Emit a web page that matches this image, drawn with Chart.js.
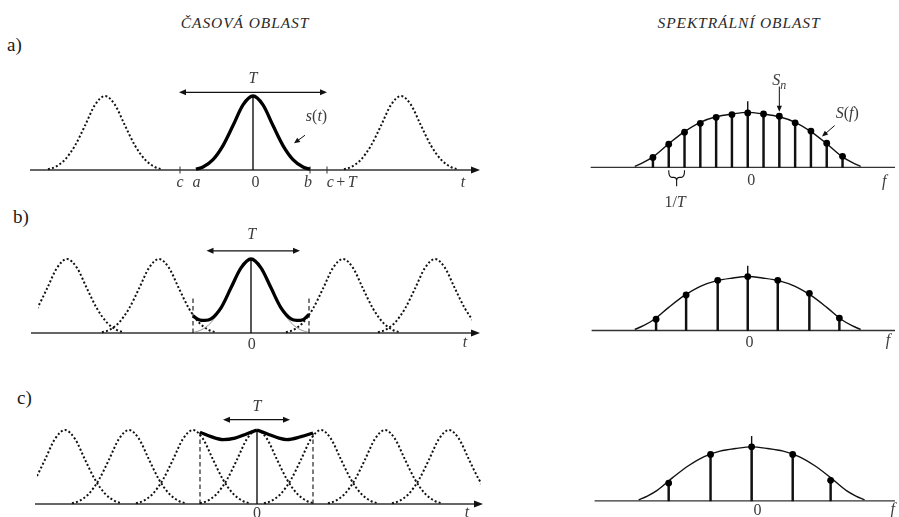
<!DOCTYPE html>
<html>
<head>
<meta charset="utf-8">
<script src="https://cdn.jsdelivr.net/npm/chart.js@4.4.1/dist/chart.umd.min.js"></script>
<style>
  body { margin: 0; width: 899px; height: 517px; overflow: hidden; position: relative; background: #fff;
         font-family: "Liberation Serif", "DejaVu Serif", serif; color: #1a1a1a; }
  canvas { position: absolute; }
  .head { position: absolute; font-style: italic; font-size: 15.5px; letter-spacing: 0.9px;
          transform: translate(-50%, -50%); white-space: nowrap; color: #2a2a2a; }
  .tag { position: absolute; font-size: 19px; transform: translateY(-50%); }
</style>
</head>
<body>
<div class="head" style="left:245px;top:23px">ČASOVÁ OBLAST</div>
<div class="head" style="left:739px;top:23px">SPEKTRÁLNÍ OBLAST</div>
<div class="tag" style="left:7px;top:45px">a)</div>
<div class="tag" style="left:13px;top:217px">b)</div>
<div class="tag" style="left:17px;top:398px">c)</div>

<script>
// single pulse s(t) around its centre (time in units, amplitude 1 at the peak)
var pulseOffsets = [-5.7, -5, -4, -3, -2, -1, 0, 1, 2, 3, 4, 5, 5.7];
var pulseValues  = [0.01, 0.04, 0.14, 0.33, 0.60, 0.88, 1.00, 0.88, 0.60, 0.33, 0.14, 0.04, 0.01];

// pulse centres for the three repetition periods
var centresA = [-14.8, 0, 14.8];
var centresB = [-18.4, -9.2, 0, 9.2, 18.4];
var centresC = [-19.2, -12.8, -6.4, 0, 6.4, 12.8, 19.2];

// periodic signal over one window [a, b]
var sumOffsetsB = [-5.8, -5.2, -4.6, -4, -3, -2, -1, 0, 1, 2, 3, 4, 4.6, 5.2, 5.8];
var sumValuesB  = [0.23, 0.18, 0.17, 0.19, 0.34, 0.61, 0.88, 1.00, 0.88, 0.61, 0.34, 0.19, 0.17, 0.18, 0.25];
var sumOffsetsC = [-5.7, -4.6, -3.4, -2.2, -1, 0, 1, 2.2, 3.0, 4.4, 5.6];
var sumValuesC  = [0.97, 0.91, 0.87, 0.89, 0.95, 1.00, 0.95, 0.89, 0.87, 0.91, 0.96];

// spectrum envelope S(f)
var envFreq   = [-7.15, -6.6, -6, -5, -4, -3, -2, -1, 0, 1, 2, 3, 4, 5, 6, 6.6, 7.15];
var envValues = [0.02, 0.09, 0.19, 0.43, 0.65, 0.82, 0.92, 0.97, 1.00, 0.97, 0.92, 0.82, 0.65, 0.43, 0.19, 0.09, 0.02];

// spectral lines S_n
var lineFreqA = [-6, -5, -4, -3, -2, -1, 0, 1, 2, 3, 4, 5, 6];
var lineValA  = [0.18, 0.42, 0.64, 0.80, 0.91, 0.96, 0.99, 0.97, 0.93, 0.81, 0.66, 0.44, 0.20];
var lineFreqB = [-5.8, -3.9, -1.9, 0, 1.9, 3.9, 5.8];
var lineValB  = [0.21, 0.66, 0.93, 1.00, 0.93, 0.69, 0.23];
var lineFreqC = [-5.25, -2.6, 0, 2.6, 5.0];
var lineValC  = [0.33, 0.86, 1.00, 0.86, 0.38];

var MATH_FONT = '"Liberation Serif", "DejaVu Serif", serif';

// page layout of each panel: canvas box, plotted x range, origin, px per unit
var layout = {
  timeA: { box: [0, 60, 495, 140],  clip: [0, 495],  origin: [253, 170], unit: [10, 74] },
  timeB: { box: [0, 222, 495, 138], clip: [38, 472], origin: [251, 333], unit: [10, 74] },
  timeC: { box: [0, 395, 495, 122], clip: [37, 481], origin: [257, 504], unit: [10, 74] },
  specA: { box: [575, 60, 324, 155],  clip: [575, 899], origin: [748, 169], unit: [16.2, 58] },
  specB: { box: [575, 240, 324, 115], clip: [575, 899], origin: [748, 333], unit: [16.2, 58] },
  specC: { box: [575, 400, 324, 117], clip: [575, 899], origin: [752, 504], unit: [16.2, 58] }
};

function pts(xs, ys, shift) {
  return xs.map(function (x, i) { return { x: x + (shift || 0), y: ys[i] }; });
}

function dotted(data) {
  return { data: data, showLine: true, borderColor: '#111', borderWidth: 2, borderDash: [2, 2.2],
           pointRadius: 0, cubicInterpolationMode: 'monotone', order: 4 };
}
function thick(data) {
  return { data: data, showLine: true, borderColor: '#000', borderWidth: 3.3, pointRadius: 0,
           cubicInterpolationMode: 'monotone', order: 1 };
}
function thin(data) {
  return { data: data, showLine: true, borderColor: '#8a8a8a', borderWidth: 0.9, pointRadius: 0,
           cubicInterpolationMode: 'monotone', order: 3 };
}
function segment(data, dash) {
  return { data: data, showLine: true, borderColor: '#111', borderWidth: dash ? 1.1 : 1.4,
           borderDash: dash ? [4.5, 3] : [], pointRadius: 0, order: 2 };
}

// math label: letters italic, digits and symbols upright, "_x" as subscript
function mathText(ctx, s, cx, cy) {
  var size = 16, runs = [], i = 0;
  while (i < s.length) {
    var ch = s[i], sub = false;
    if (ch === '_') { sub = true; ch = s[++i]; }
    runs.push({ ch: ch, it: /[A-Za-z]/.test(ch), sub: sub, pad: ch === '+' ? 2.5 : 0 });
    i++;
  }
  var total = 0;
  runs.forEach(function (r) {
    r.font = (r.it ? 'italic ' : '') + (r.sub ? Math.round(size * 0.72) : size) + 'px ' + MATH_FONT;
    ctx.font = r.font;
    r.w = ctx.measureText(r.ch).width + r.pad * 2;
    total += r.w;
  });
  var x = cx - total / 2;
  ctx.textBaseline = 'middle';
  ctx.textAlign = 'left';
  runs.forEach(function (r) {
    ctx.font = r.font;
    ctx.fillText(r.ch, x + r.pad, cy + (r.sub ? 5 : 0));
    x += r.w;
  });
}

function arrowHead(ctx, x, y, ang, len, half) {
  ctx.beginPath();
  ctx.moveTo(x, y);
  ctx.lineTo(x - len * Math.cos(ang) + half * Math.sin(ang), y - len * Math.sin(ang) - half * Math.cos(ang));
  ctx.lineTo(x - len * Math.cos(ang) - half * Math.sin(ang), y - len * Math.sin(ang) + half * Math.cos(ang));
  ctx.closePath();
  ctx.fill();
}

// axes, ticks, arrows, braces and labels around the plotted data
function marksPlugin(m) {
  return {
    id: 'marks',
    beforeDatasetsDraw: function (chart) {
      var ctx = chart.ctx, sx = chart.scales.x, sy = chart.scales.y;
      var y0 = sy.getPixelForValue(0);
      var x1 = sx.getPixelForValue(m.axis[0]), x2 = sx.getPixelForValue(m.axis[1]);
      ctx.save();
      ctx.strokeStyle = '#333';
      ctx.fillStyle = '#111';
      ctx.lineWidth = 1.4;
      ctx.beginPath();
      ctx.moveTo(x1, y0);
      ctx.lineTo(m.arrow ? x2 - 6 : x2, y0);
      ctx.stroke();
      if (m.arrow) arrowHead(ctx, x2, y0, 0, 9, 3.6);
      (m.ticks || []).forEach(function (t) {
        var px = sx.getPixelForValue(t);
        ctx.beginPath();
        ctx.moveTo(px, y0 - 3.5);
        ctx.lineTo(px, y0 + 3.5);
        ctx.lineWidth = 1;
        ctx.stroke();
      });
      ctx.restore();
    },
    afterDraw: function (chart) {
      var ctx = chart.ctx, sx = chart.scales.x, sy = chart.scales.y;
      ctx.save();
      ctx.strokeStyle = '#111';
      ctx.fillStyle = '#111';
      (m.spans || []).forEach(function (s) {
        var a = sx.getPixelForValue(s.from), b = sx.getPixelForValue(s.to), y = sy.getPixelForValue(s.y);
        ctx.lineWidth = 1.2;
        ctx.beginPath();
        ctx.moveTo(a + 4, y);
        ctx.lineTo(b - 4, y);
        ctx.stroke();
        arrowHead(ctx, a, y, Math.PI, 7, 3);
        arrowHead(ctx, b, y, 0, 7, 3);
      });
      (m.pointers || []).forEach(function (p) {
        var a = sx.getPixelForValue(p.x1), b = sy.getPixelForValue(p.y1);
        var c = sx.getPixelForValue(p.x2), d = sy.getPixelForValue(p.y2);
        var ang = Math.atan2(d - b, c - a);
        ctx.lineWidth = 1;
        ctx.beginPath();
        ctx.moveTo(a, b);
        ctx.lineTo(c - 4 * Math.cos(ang), d - 4 * Math.sin(ang));
        ctx.stroke();
        arrowHead(ctx, c, d, ang, 6, 2.6);
      });
      if (m.brace) {
        var bl = sx.getPixelForValue(m.brace.from), br = sx.getPixelForValue(m.brace.to);
        var bm = (bl + br) / 2, by = sy.getPixelForValue(0);
        ctx.lineWidth = 1.1;
        ctx.beginPath();
        ctx.moveTo(bl, by + 3);
        ctx.quadraticCurveTo(bl, by + 10, bl + 3, by + 10);
        ctx.lineTo(bm - 3, by + 10);
        ctx.quadraticCurveTo(bm, by + 10, bm, by + 13);
        ctx.lineTo(bm, by + 19);
        ctx.moveTo(bm, by + 13);
        ctx.quadraticCurveTo(bm, by + 10, bm + 3, by + 10);
        ctx.lineTo(br - 3, by + 10);
        ctx.quadraticCurveTo(br, by + 10, br, by + 3);
        ctx.stroke();
      }
      ctx.fillStyle = '#3c3c3c';
      (m.labels || []).forEach(function (l) {
        mathText(ctx, l.text, sx.getPixelForValue(l.x), sy.getPixelForValue(l.y) + (l.dy || 0));
      });
      ctx.restore();
    }
  };
}

function makeChart(p, datasets, marks) {
  var c = document.createElement('canvas');
  c.width = p.box[2];
  c.height = p.box[3];
  c.style.left = p.box[0] + 'px';
  c.style.top = p.box[1] + 'px';
  document.body.appendChild(c);
  return new Chart(c.getContext('2d'), {
    type: 'scatter',
    data: { datasets: datasets },
    options: {
      responsive: false,
      animation: false,
      devicePixelRatio: 1,
      events: [],
      layout: { padding: { left: p.clip[0] - p.box[0], right: p.box[0] + p.box[2] - p.clip[1], top: 0, bottom: 0 } },
      plugins: { legend: { display: false }, tooltip: { enabled: false } },
      scales: {
        x: { type: 'linear', display: false, offset: false,
             min: (p.clip[0] - p.origin[0]) / p.unit[0], max: (p.clip[1] - p.origin[0]) / p.unit[0] },
        y: { type: 'linear', display: false,
             min: (p.origin[1] - p.box[1] - p.box[3]) / p.unit[1], max: (p.origin[1] - p.box[1]) / p.unit[1] }
      }
    },
    plugins: [marksPlugin(marks)]
  });
}

var pulsePeak = Math.max.apply(null, pulseValues);
var first = function (a) { return a[0]; };
var last = function (a) { return a[a.length - 1]; };

// a) pulse repeated with a long period
makeChart(layout.timeA,
  centresA.filter(function (c) { return c !== 0; }).map(function (c) { return dotted(pts(pulseOffsets, pulseValues, c)); })
    .concat([thick(pts(pulseOffsets, pulseValues)),
             segment([{ x: 0, y: 0 }, { x: 0, y: pulsePeak }])]),
  {
    axis: [-22.3, 22.7], arrow: true, ticks: [-7.3, 5.7, 7.4],
    spans: [{ from: -7.4, to: 7.4, y: 1.05 }],
    pointers: [{ x1: 5.2, y1: 0.47, x2: 4.1, y2: 0.36 }],
    labels: [
      { text: 'c', x: -7.3, y: 0, dy: 13 }, { text: 'a', x: -5.65, y: 0, dy: 13 },
      { text: '0', x: 0.25, y: 0, dy: 13 }, { text: 'b', x: 5.5, y: 0, dy: 13 },
      { text: 'c+T', x: 8.87, y: 0, dy: 13 }, { text: 't', x: 21.0, y: 0, dy: 13 },
      { text: 'T', x: 0, y: 1.05, dy: -14 }, { text: 's(t)', x: 6.35, y: 0.72 }
    ]
  });

// b) period shorter than the pulse, tails overlap
makeChart(layout.timeB,
  centresB.filter(function (c) { return c !== 0; }).map(function (c) { return dotted(pts(pulseOffsets, pulseValues, c)); })
    .concat([thin(pts(pulseOffsets, pulseValues)),
             thick(pts(sumOffsetsB, sumValuesB)),
             segment([{ x: first(sumOffsetsB), y: 0 }, { x: first(sumOffsetsB), y: 0.49 }], true),
             segment([{ x: last(sumOffsetsB), y: 0 }, { x: last(sumOffsetsB), y: 0.49 }], true),
             segment([{ x: 0, y: 0 }, { x: 0, y: pulsePeak }])]),
  {
    axis: [-22.0, 22.9], arrow: true,
    spans: [{ from: -4.45, to: 4.9, y: 1.11 }],
    labels: [
      { text: '0', x: 0.07, y: 0, dy: 12 }, { text: 't', x: 21.4, y: 0, dy: 10 },
      { text: 'T', x: 0.07, y: 1.11, dy: -16 }
    ]
  });

// c) strongly overlapping pulses
var peakIdxC = sumOffsetsC.indexOf(0);
makeChart(layout.timeC,
  centresC.map(function (c) { return dotted(pts(pulseOffsets, pulseValues, c)); })
    .concat([thick(pts(sumOffsetsC.slice(0, peakIdxC + 1), sumValuesC.slice(0, peakIdxC + 1))),
             thick(pts(sumOffsetsC.slice(peakIdxC), sumValuesC.slice(peakIdxC))),
             segment([{ x: first(sumOffsetsC), y: 0 }, { x: first(sumOffsetsC), y: first(sumValuesC) }], true),
             segment([{ x: last(sumOffsetsC), y: 0 }, { x: last(sumOffsetsC), y: last(sumValuesC) }], true),
             segment([{ x: 0, y: 0 }, { x: 0, y: Math.max.apply(null, sumValuesC) }])]),
  {
    axis: [-22.2, 22.6], arrow: true,
    spans: [{ from: -3.4, to: 3.3, y: 1.14 }],
    labels: [
      { text: '0', x: 0, y: 0, dy: 10 }, { text: 't', x: 21.0, y: 0, dy: 9 },
      { text: 'T', x: 0, y: 1.14, dy: -13 }
    ]
  });

// spectral panels: envelope, stems and dots
function spectrum(freq, vals) {
  return [
    { type: 'bar', data: pts(freq, vals), backgroundColor: '#111', barThickness: 1.8, order: 3 },
    { data: pts(freq, vals), pointRadius: 3.4, pointBackgroundColor: '#000', pointBorderWidth: 0, showLine: false, order: 0 },
    { data: pts(envFreq, envValues), showLine: true, borderColor: '#111', borderWidth: 1.4, pointRadius: 0,
      cubicInterpolationMode: 'monotone', order: 2 },
    segment([{ x: 0, y: 0 }, { x: 0, y: 1.2 }])
  ];
}

makeChart(layout.specA, spectrum(lineFreqA, lineValA), {
  axis: [-9.94, 9.32],
  brace: { from: -5, to: -4 },
  pointers: [{ x1: 2, y1: 1.47, x2: 2, y2: 1.01 }, { x1: 5.5, y1: 0.76, x2: 4.7, y2: 0.56 }],
  labels: [
    { text: '0', x: 0.23, y: 0, dy: 13 }, { text: 'f', x: 8.64, y: 0, dy: 14 },
    { text: '1/T', x: -4.6, y: 0, dy: 35 },
    { text: 'S_n', x: 2, y: 1.57 }, { text: 'S(f)', x: 6.3, y: 0.97 }
  ]
});

makeChart(layout.specB, spectrum(lineFreqB, lineValB), {
  axis: [-9.88, 9.32],
  labels: [{ text: '0', x: 0.12, y: 0, dy: 12 }, { text: 'f', x: 8.87, y: 0, dy: 10 }]
});

makeChart(layout.specC, spectrum(lineFreqC, lineValC), {
  axis: [-9.94, 9.07],
  labels: [{ text: '0', x: 0.37, y: 0, dy: 10 }, { text: 'f', x: 8.93, y: 0, dy: 9 }]
});
</script>
</body>
</html>
